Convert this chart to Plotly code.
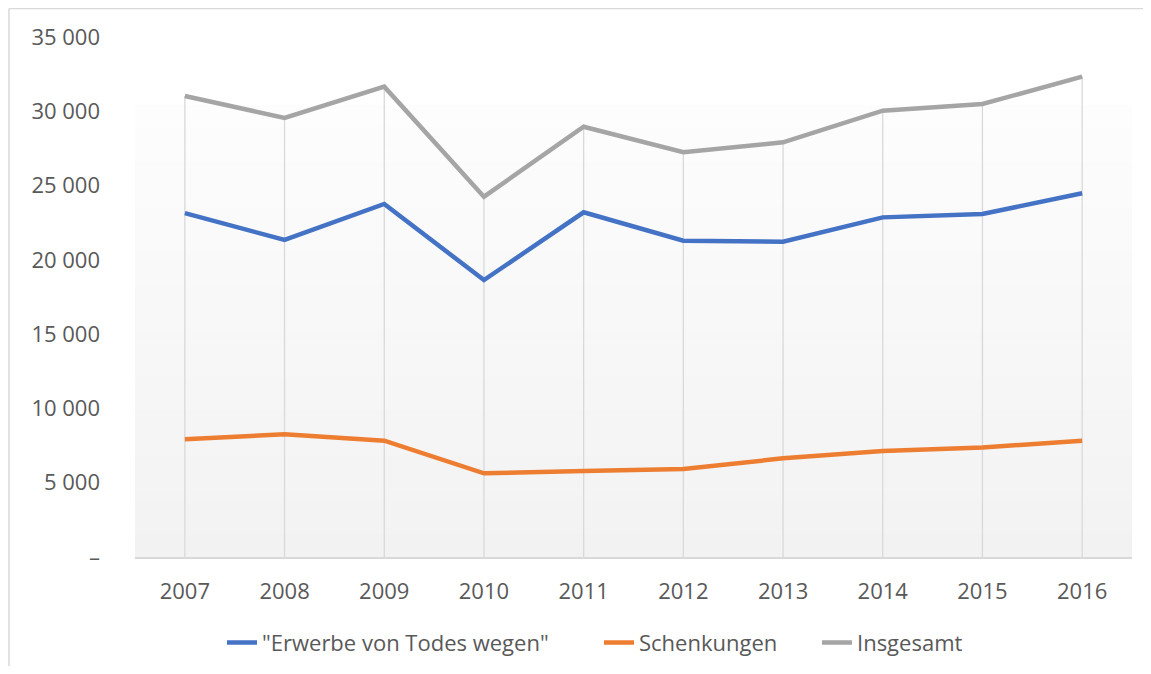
import plotly.graph_objects as go

years = ["2007", "2008", "2009", "2010", "2011", "2012", "2013", "2014", "2015", "2016"]
erwerbe = [23150, 21340, 23760, 18640, 23200, 21290, 21220, 22860, 23090, 24480]
schenkungen = [7920, 8260, 7830, 5630, 5790, 5920, 6640, 7130, 7370, 7830]
insgesamt = [31030, 29550, 31655, 24250, 28960, 27240, 27910, 30040, 30490, 32330]

y_tickvals = [0, 5000, 10000, 15000, 20000, 25000, 30000, 35000]
y_ticktext = ["–", "5 000", "10 000", "15 000", "20 000", "25 000", "30 000", "35 000"]

names = ['"Erwerbe von Todes wegen"', "Schenkungen", "Insgesamt"]
colors = ["#4472C4", "#ED7D31", "#A5A5A5"]
legend_ids = ["legend", "legend2", "legend3"]

OFF = 8  # page body margin (both sides), keep the figure inside the window
W, H = 1151 - 2 * OFF, 674 - 2 * OFF
L, T = 135 - OFF, 37 - OFF
pw, ph = 997, 520
R, B = W - L - pw, H - T - ph

fig = go.Figure()

# drop lines from highest point to axis
dx, dy = [], []
for yr, v in zip(years, insgesamt):
    dx += [yr, yr, None]
    dy += [0, v, None]
fig.add_trace(go.Scatter(x=dx, y=dy, mode="lines", line=dict(color="#D9D9D9", width=1.3),
                         showlegend=False, hoverinfo="skip"))

for name, vals, col, lg in zip(names, [erwerbe, schenkungen, insgesamt], colors, legend_ids):
    fig.add_trace(go.Scatter(x=years, y=vals, name=name, mode="lines", legend=lg,
                             line=dict(color=col, width=4.5)))

shapes = []
# gradient plot-area background
y_top = 1 - (105 - 37) / ph
n = 40
c0, c1 = 253, 242
for i in range(n):
    f0 = i / n
    f1 = (i + 1) / n
    c = round(c0 + (c1 - c0) * (f0 + f1) / 2)
    shapes.append(dict(type="rect", xref="paper", yref="paper", x0=0, x1=1,
                       y0=y_top - f0 * y_top, y1=y_top - f1 * y_top - 0.001,
                       fillcolor=f"rgb({c},{c},{c})", line=dict(width=0), layer="below"))
# outer chart border: left and top edges only visible
x_left = (1.0 - L) / pw
y_topb = 1 + (T - 0.5) / ph
shapes.append(dict(type="line", xref="paper", yref="paper",
                   x0=x_left, x1=(W - L) / pw, y0=y_topb, y1=y_topb,
                   line=dict(color="#D9D9D9", width=1.5), layer="below"))
shapes.append(dict(type="line", xref="paper", yref="paper",
                   x0=x_left, x1=x_left, y0=1 - (H - T) / ph, y1=y_topb,
                   line=dict(color="#D9D9D9", width=1.5), layer="below"))

font_family = "Open Sans, Noto Sans, sans-serif"
leg_common = dict(orientation="h", xanchor="left", y=-0.165, yanchor="middle",
                  font=dict(size=22, color="#595959", family=font_family),
                  bgcolor="rgba(0,0,0,0)")
text_starts = [262, 639, 857]  # screen px where legend text starts
leg_x = [(s - 40 - 135) / pw for s in text_starts]

fig.update_layout(
    width=W, height=H,
    margin=dict(l=L, r=R, t=T, b=B, autoexpand=False),
    paper_bgcolor="white", plot_bgcolor="rgba(0,0,0,0)",
    font=dict(family=font_family, size=22, color="#595959"),
    shapes=shapes,
    showlegend=True,
    legend=dict(x=leg_x[0], **leg_common),
    legend2=dict(x=leg_x[1], **leg_common),
    legend3=dict(x=leg_x[2], **leg_common),
    xaxis=dict(type="category", range=[-0.5, 9.5], showgrid=False, zeroline=False,
               showline=True, linecolor="#D9D9D9", linewidth=1.5,
               ticks="", ticklabelstandoff=14, tickfont=dict(size=22, color="#595959")),
    yaxis=dict(range=[0, 35000], tickvals=y_tickvals, ticktext=y_ticktext,
               showgrid=False, zeroline=False, showline=False, ticks="",
               ticklabelstandoff=34, tickfont=dict(size=22, color="#595959")),
)

fig.write_html("out.html")
